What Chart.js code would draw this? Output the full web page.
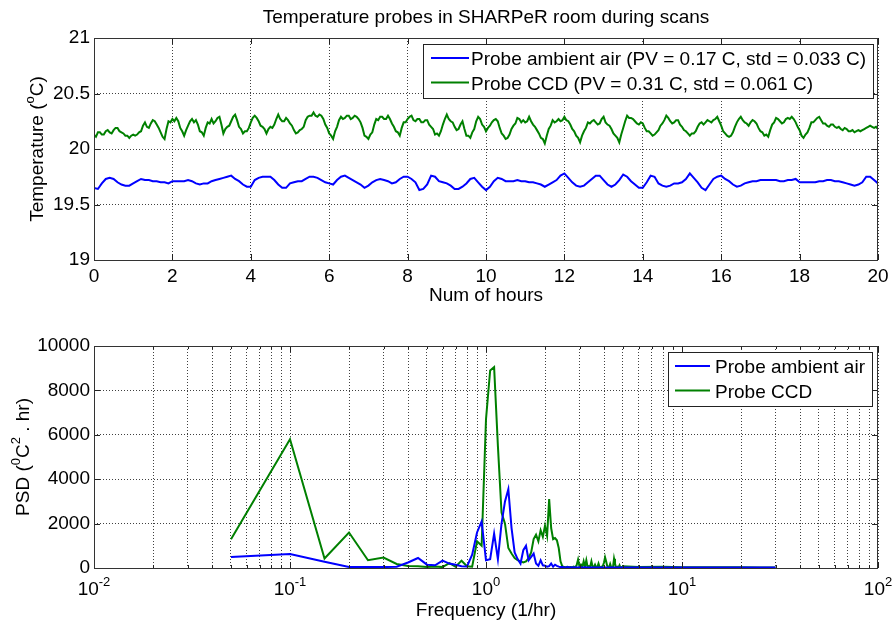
<!DOCTYPE html>
<html>
<head>
<meta charset="utf-8">
<script src="https://cdn.jsdelivr.net/npm/chart.js@4/dist/chart.umd.min.js"></script>
<style>
	body { margin: 0; background: #fff; }
	canvas { position: absolute; left: 0; }
	#tempChart { top: 0; }
	#psdChart { top: 320px; }
</style>
</head>
<body>
<canvas id="tempChart" width="894" height="320"></canvas>
<canvas id="psdChart" width="894" height="303"></canvas>
<script>
// Time axis of the ambient probe (hours).
const hours = [
	0.0, 0.1, 0.2, 0.3, 0.4, 0.5, 0.6, 0.7, 0.8, 0.9,
	1.0, 1.1, 1.2, 1.3, 1.4, 1.5, 1.6, 1.7, 1.8, 1.9,
	2.0, 2.1, 2.2, 2.3, 2.4, 2.5, 2.6, 2.7, 2.8, 2.9,
	3.0, 3.1, 3.2, 3.3, 3.4, 3.5, 3.6, 3.7, 3.8, 3.9,
	4.0, 4.1, 4.2, 4.3, 4.4, 4.5, 4.6, 4.7, 4.8, 4.9,
	5.0, 5.1, 5.2, 5.3, 5.4, 5.5, 5.6, 5.7, 5.8, 5.9,
	6.0, 6.1, 6.2, 6.3, 6.4, 6.5, 6.6, 6.7, 6.8, 6.9,
	7.0, 7.1, 7.2, 7.3, 7.4, 7.5, 7.6, 7.7, 7.8, 7.9,
	8.0, 8.1, 8.2, 8.3, 8.4, 8.5, 8.6, 8.7, 8.8, 8.9,
	9.0, 9.1, 9.2, 9.3, 9.4, 9.5, 9.6, 9.7, 9.8, 9.9,
	10.0, 10.1, 10.2, 10.3, 10.4, 10.5, 10.6, 10.7, 10.8, 10.9,
	11.0, 11.1, 11.2, 11.3, 11.4, 11.5, 11.6, 11.7, 11.8, 11.9,
	12.0, 12.1, 12.2, 12.3, 12.4, 12.5, 12.6, 12.7, 12.8, 12.9,
	13.0, 13.1, 13.2, 13.3, 13.4, 13.5, 13.6, 13.7, 13.8, 13.9,
	14.0, 14.1, 14.2, 14.3, 14.4, 14.5, 14.6, 14.7, 14.8, 14.9,
	15.0, 15.1, 15.2, 15.3, 15.4, 15.5, 15.6, 15.7, 15.8, 15.9,
	16.0, 16.1, 16.2, 16.3, 16.4, 16.5, 16.6, 16.7, 16.8, 16.9,
	17.0, 17.1, 17.2, 17.3, 17.4, 17.5, 17.6, 17.7, 17.8, 17.9,
	18.0, 18.1, 18.2, 18.3, 18.4, 18.5, 18.6, 18.7, 18.8, 18.9,
	19.0, 19.1, 19.2, 19.3, 19.4, 19.5, 19.6, 19.7, 19.8, 19.9,
	20.0
];

// Probe ambient air temperature (C).
const ambientTemp = [
	19.65, 19.64, 19.69, 19.73, 19.74, 19.73, 19.70, 19.68, 19.67, 19.67,
	19.69, 19.71, 19.73, 19.72, 19.72, 19.71, 19.71, 19.70, 19.70, 19.69,
	19.71, 19.71, 19.71, 19.71, 19.72, 19.71, 19.69, 19.68, 19.69, 19.69,
	19.71, 19.72, 19.73, 19.74, 19.75, 19.76, 19.73, 19.71, 19.68, 19.66,
	19.66, 19.72, 19.74, 19.75, 19.75, 19.75, 19.72, 19.68, 19.65, 19.65,
	19.69, 19.70, 19.71, 19.71, 19.73, 19.75, 19.75, 19.74, 19.72, 19.70,
	19.69, 19.68, 19.72, 19.75, 19.76, 19.74, 19.72, 19.70, 19.68, 19.65,
	19.67, 19.70, 19.72, 19.73, 19.72, 19.71, 19.69, 19.70, 19.73, 19.75,
	19.75, 19.73, 19.70, 19.63, 19.64, 19.68, 19.76, 19.75, 19.71, 19.70,
	19.69, 19.67, 19.64, 19.64, 19.66, 19.69, 19.73, 19.74, 19.70, 19.66,
	19.63, 19.66, 19.71, 19.74, 19.73, 19.71, 19.71, 19.71, 19.72, 19.71,
	19.71, 19.70, 19.70, 19.69, 19.68, 19.66, 19.68, 19.70, 19.72, 19.76,
	19.78, 19.74, 19.70, 19.67, 19.66, 19.67, 19.70, 19.73, 19.76, 19.76,
	19.72, 19.68, 19.66, 19.68, 19.72, 19.77, 19.75, 19.71, 19.68, 19.65,
	19.65, 19.70, 19.76, 19.75, 19.69, 19.67, 19.66, 19.67, 19.69, 19.69,
	19.70, 19.73, 19.78, 19.74, 19.70, 19.65, 19.63, 19.68, 19.73, 19.75,
	19.76, 19.73, 19.71, 19.68, 19.66, 19.67, 19.69, 19.70, 19.71, 19.71,
	19.72, 19.72, 19.72, 19.72, 19.72, 19.71, 19.71, 19.72, 19.72, 19.73,
	19.70, 19.70, 19.70, 19.70, 19.70, 19.71, 19.71, 19.72, 19.72, 19.71,
	19.71, 19.70, 19.69, 19.68, 19.67, 19.68, 19.70, 19.75, 19.75, 19.72,
	19.69
];

// Time axis of the CCD probe (hours), sampled more finely to keep its noise.
const ccdHours = [
	0.00, 0.05, 0.10, 0.15, 0.20, 0.25, 0.30, 0.35, 0.40, 0.45, 0.50, 0.55, 0.60, 0.65, 0.70, 0.75, 0.80, 0.85, 0.90, 0.95,
	1.00, 1.05, 1.10, 1.15, 1.20, 1.25, 1.30, 1.35, 1.40, 1.45, 1.50, 1.55, 1.60, 1.65, 1.70, 1.75, 1.80, 1.85, 1.90, 1.95,
	2.00, 2.05, 2.10, 2.15, 2.20, 2.25, 2.30, 2.35, 2.40, 2.45, 2.50, 2.55, 2.60, 2.65, 2.70, 2.75, 2.80, 2.85, 2.90, 2.95,
	3.00, 3.05, 3.10, 3.15, 3.20, 3.25, 3.30, 3.35, 3.40, 3.45, 3.50, 3.55, 3.60, 3.65, 3.70, 3.75, 3.80, 3.85, 3.90, 3.95,
	4.00, 4.05, 4.10, 4.15, 4.20, 4.25, 4.30, 4.35, 4.40, 4.45, 4.50, 4.55, 4.60, 4.65, 4.70, 4.75, 4.80, 4.85, 4.90, 4.95,
	5.00, 5.05, 5.10, 5.15, 5.20, 5.25, 5.30, 5.35, 5.40, 5.45, 5.50, 5.55, 5.60, 5.65, 5.70, 5.75, 5.80, 5.85, 5.90, 5.95,
	6.00, 6.05, 6.10, 6.15, 6.20, 6.25, 6.30, 6.35, 6.40, 6.45, 6.50, 6.55, 6.60, 6.65, 6.70, 6.75, 6.80, 6.85, 6.90, 6.95,
	7.00, 7.05, 7.10, 7.15, 7.20, 7.25, 7.30, 7.35, 7.40, 7.45, 7.50, 7.55, 7.60, 7.65, 7.70, 7.75, 7.80, 7.85, 7.90, 7.95,
	8.00, 8.05, 8.10, 8.15, 8.20, 8.25, 8.30, 8.35, 8.40, 8.45, 8.50, 8.55, 8.60, 8.65, 8.70, 8.75, 8.80, 8.85, 8.90, 8.95,
	9.00, 9.05, 9.10, 9.15, 9.20, 9.25, 9.30, 9.35, 9.40, 9.45, 9.50, 9.55, 9.60, 9.65, 9.70, 9.75, 9.80, 9.85, 9.90, 9.95,
	10.00, 10.05, 10.10, 10.15, 10.20, 10.25, 10.30, 10.35, 10.40, 10.45, 10.50, 10.55, 10.60, 10.65, 10.70, 10.75, 10.80, 10.85, 10.90, 10.95,
	11.00, 11.05, 11.10, 11.15, 11.20, 11.25, 11.30, 11.35, 11.40, 11.45, 11.50, 11.55, 11.60, 11.65, 11.70, 11.75, 11.80, 11.85, 11.90, 11.95,
	12.00, 12.05, 12.10, 12.15, 12.20, 12.25, 12.30, 12.35, 12.40, 12.45, 12.50, 12.55, 12.60, 12.65, 12.70, 12.75, 12.80, 12.85, 12.90, 12.95,
	13.00, 13.05, 13.10, 13.15, 13.20, 13.25, 13.30, 13.35, 13.40, 13.45, 13.50, 13.55, 13.60, 13.65, 13.70, 13.75, 13.80, 13.85, 13.90, 13.95,
	14.00, 14.05, 14.10, 14.15, 14.20, 14.25, 14.30, 14.35, 14.40, 14.45, 14.50, 14.55, 14.60, 14.65, 14.70, 14.75, 14.80, 14.85, 14.90, 14.95,
	15.00, 15.05, 15.10, 15.15, 15.20, 15.25, 15.30, 15.35, 15.40, 15.45, 15.50, 15.55, 15.60, 15.65, 15.70, 15.75, 15.80, 15.85, 15.90, 15.95,
	16.00, 16.05, 16.10, 16.15, 16.20, 16.25, 16.30, 16.35, 16.40, 16.45, 16.50, 16.55, 16.60, 16.65, 16.70, 16.75, 16.80, 16.85, 16.90, 16.95,
	17.00, 17.05, 17.10, 17.15, 17.20, 17.25, 17.30, 17.35, 17.40, 17.45, 17.50, 17.55, 17.60, 17.65, 17.70, 17.75, 17.80, 17.85, 17.90, 17.95,
	18.00, 18.05, 18.10, 18.15, 18.20, 18.25, 18.30, 18.35, 18.40, 18.45, 18.50, 18.55, 18.60, 18.65, 18.70, 18.75, 18.80, 18.85, 18.90, 18.95,
	19.00, 19.05, 19.10, 19.15, 19.20, 19.25, 19.30, 19.35, 19.40, 19.45, 19.50, 19.55, 19.60, 19.65, 19.70, 19.75, 19.80, 19.85, 19.90, 19.95,
	20.00
];

// Probe CCD temperature (C).
const ccdTemp = [
	20.13, 20.11, 20.15, 20.15, 20.13, 20.13, 20.16, 20.17, 20.15, 20.14, 20.17, 20.19, 20.19, 20.16, 20.15, 20.14, 20.12, 20.12, 20.10, 20.12,
	20.13, 20.12, 20.13, 20.15, 20.16, 20.21, 20.24, 20.20, 20.19, 20.23, 20.26, 20.25, 20.22, 20.19, 20.15, 20.11, 20.09, 20.18, 20.25, 20.24,
	20.27, 20.25, 20.28, 20.25, 20.19, 20.16, 20.12, 20.17, 20.21, 20.25, 20.27, 20.24, 20.26, 20.22, 20.16, 20.15, 20.12, 20.19, 20.24, 20.23,
	20.27, 20.23, 20.25, 20.28, 20.29, 20.22, 20.14, 20.18, 20.20, 20.21, 20.25, 20.29, 20.31, 20.26, 20.20, 20.18, 20.14, 20.16, 20.16, 20.19,
	20.24, 20.28, 20.30, 20.28, 20.25, 20.21, 20.20, 20.18, 20.14, 20.18, 20.20, 20.19, 20.22, 20.27, 20.31, 20.27, 20.25, 20.25, 20.28, 20.26,
	20.23, 20.21, 20.17, 20.14, 20.15, 20.17, 20.18, 20.20, 20.26, 20.29, 20.30, 20.30, 20.33, 20.30, 20.29, 20.31, 20.30, 20.27, 20.22, 20.19,
	20.14, 20.12, 20.09, 20.16, 20.20, 20.26, 20.29, 20.27, 20.28, 20.30, 20.30, 20.27, 20.28, 20.30, 20.29, 20.27, 20.24, 20.19, 20.12, 20.11,
	20.09, 20.13, 20.15, 20.22, 20.27, 20.26, 20.29, 20.29, 20.27, 20.27, 20.30, 20.27, 20.23, 20.20, 20.16, 20.15, 20.12, 20.19, 20.24, 20.24,
	20.27, 20.29, 20.30, 20.26, 20.25, 20.27, 20.27, 20.24, 20.24, 20.26, 20.26, 20.22, 20.20, 20.18, 20.13, 20.14, 20.12, 20.16, 20.22, 20.27,
	20.31, 20.27, 20.25, 20.24, 20.20, 20.17, 20.18, 20.22, 20.25, 20.18, 20.12, 20.12, 20.10, 20.15, 20.18, 20.25, 20.29, 20.27, 20.22, 20.20,
	20.16, 20.19, 20.21, 20.24, 20.26, 20.27, 20.25, 20.19, 20.14, 20.12, 20.09, 20.10, 20.13, 20.18, 20.21, 20.23, 20.28, 20.27, 20.24, 20.26,
	20.24, 20.25, 20.29, 20.25, 20.22, 20.20, 20.17, 20.14, 20.10, 20.09, 20.05, 20.12, 20.18, 20.21, 20.26, 20.24, 20.25, 20.27, 20.25, 20.26,
	20.29, 20.26, 20.25, 20.22, 20.18, 20.16, 20.12, 20.10, 20.06, 20.12, 20.16, 20.19, 20.24, 20.23, 20.25, 20.26, 20.24, 20.22, 20.23, 20.27,
	20.29, 20.24, 20.22, 20.21, 20.18, 20.14, 20.12, 20.10, 20.06, 20.13, 20.19, 20.25, 20.30, 20.28, 20.28, 20.27, 20.25, 20.23, 20.22, 20.24,
	20.23, 20.19, 20.16, 20.16, 20.14, 20.12, 20.13, 20.15, 20.17, 20.21, 20.23, 20.26, 20.30, 20.28, 20.25, 20.23, 20.24, 20.26, 20.26, 20.22,
	20.20, 20.17, 20.16, 20.14, 20.12, 20.14, 20.14, 20.16, 20.20, 20.23, 20.24, 20.22, 20.24, 20.26, 20.25, 20.24, 20.26, 20.27, 20.29, 20.25,
	20.21, 20.16, 20.14, 20.12, 20.11, 20.12, 20.15, 20.20, 20.24, 20.27, 20.29, 20.26, 20.24, 20.23, 20.21, 20.24, 20.26, 20.25, 20.23, 20.19,
	20.16, 20.15, 20.12, 20.13, 20.11, 20.17, 20.22, 20.24, 20.28, 20.27, 20.25, 20.23, 20.24, 20.27, 20.28, 20.27, 20.29, 20.27, 20.24, 20.20,
	20.17, 20.12, 20.10, 20.13, 20.15, 20.19, 20.24, 20.24, 20.26, 20.28, 20.29, 20.26, 20.23, 20.23, 20.21, 20.20, 20.22, 20.22, 20.20, 20.19,
	20.20, 20.18, 20.17, 20.19, 20.18, 20.16, 20.16, 20.17, 20.15, 20.16, 20.17, 20.16, 20.17, 20.18, 20.19, 20.20, 20.21, 20.20, 20.19, 20.20,
	20.18
];

// Frequency axis of the lower plot (1/hr).
const freq = [
	0.05, 0.10, 0.15, 0.20, 0.25, 0.30, 0.35, 0.40, 0.45, 0.50,
	0.55, 0.60, 0.65, 0.70, 0.75, 0.80, 0.85, 0.90, 0.95, 1.00,
	1.05, 1.10, 1.15, 1.20, 1.25, 1.30, 1.35, 1.40, 1.45, 1.50,
	1.55, 1.60, 1.65, 1.70, 1.75, 1.80, 1.85, 1.90, 1.95, 2.00,
	2.05, 2.10, 2.15, 2.20, 2.25, 2.30, 2.35, 2.40, 2.45, 2.50,
	2.55, 2.60, 2.65, 2.70, 2.75, 2.80, 2.85, 2.90, 2.95, 3.00,
	3.05, 3.10, 3.15, 3.20, 3.25, 3.30, 3.35, 3.40, 3.45, 3.50,
	3.55, 3.60, 3.65, 3.70, 3.75, 3.80, 3.85, 3.90, 3.95, 4.00,
	4.05, 4.10, 4.15, 4.20, 4.25, 4.30, 4.35, 4.40, 4.45, 4.50,
	4.55, 4.60, 4.65, 4.70, 4.75, 4.80, 4.85, 4.90, 4.95, 5.00,
	6, 8, 10, 15, 20, 25, 30
];

// PSD of the ambient air probe.
const ambientPsd = [
	500, 630, 280, 50, 50, 40, 60, 250, 450, 150,
	120, 330, 200, 150, 80, 70, 600, 1600, 2100, 350,
	400, 1550, 400, 2000, 3000, 3550, 1800, 700, 400, 200,
	800, 1000, 350, 500, 650, 200, 100, 350, 120, 100,
	60, 80, 200, 60, 150, 100, 60, 40, 40, 30,
	25, 40, 30, 20, 35, 25, 30, 20, 25, 30,
	20, 25, 20, 30, 20, 25, 20, 20, 25, 20,
	20, 25, 20, 20, 20, 20, 25, 20, 20, 20,
	20, 20, 20, 20, 20, 20, 20, 20, 20, 20,
	20, 20, 20, 20, 20, 20, 20, 20, 20, 20,
	20, 20, 20, 20, 20, 20, 20
];

// PSD of the CCD probe.
const ccdPsd = [
	1300, 5800, 430, 1600, 350, 470, 180, 90, 80, 50,
	70, 40, 220, 60, 330, 80, 60, 1200, 1000, 6700,
	8900, 9050, 5500, 2500, 2000, 900, 650, 450, 350, 300,
	250, 300, 450, 700, 1300, 1500, 1200, 1700, 1400, 1900,
	1450, 3100, 1800, 1300, 1350, 1250, 900, 300, 80, 40,
	30, 50, 30, 40, 30, 60, 40, 120, 380, 60,
	150, 40, 300, 60, 350, 40, 80, 60, 300, 50,
	40, 150, 30, 40, 200, 30, 40, 60, 100, 250,
	480, 300, 100, 60, 40, 180, 40, 30, 60, 420,
	200, 40, 30, 60, 30, 120, 30, 40, 30, 80,
	40, 60, 30, 30, 30, 25, 25
];

// Tick values and labels.
const hourTicks = [0, 2, 4, 6, 8, 10, 12, 14, 16, 18, 20];
const hourTickLabels = ['0', '2', '4', '6', '8', '10', '12', '14', '16', '18', '20'];
const tempTicks = [19, 19.5, 20, 20.5, 21];
const tempTickLabels = ['19', '19.5', '20', '20.5', '21'];
const psdTicks = [0, 2000, 4000, 6000, 8000, 10000];
const psdTickLabels = ['0', '2000', '4000', '6000', '8000', '10000'];
const freqExponents = [-2, -1, 0, 1, 2];

const FONT_FAMILY = '"Liberation Sans", Arial, Helvetica, sans-serif';
const MAIN_FONT = '19px ' + FONT_FAMILY;
const SUP_FONT = '13px ' + FONT_FAMILY;
const GRID_COLOR = 'rgba(0, 0, 0, 0.75)';
const BLUE = '#0000ff';
const GREEN = '#008000';

// Draw text made of normal and superscript parts. parts: [[text, isSup], ...]
function drawRich(ctx, parts, x, y, align) {
	let total = 0;
	for (const [text, sup] of parts) {
		ctx.font = sup ? SUP_FONT : MAIN_FONT;
		total += ctx.measureText(text).width;
	}
	let cx = x;
	if (align === 'center') cx = x - total / 2;
	if (align === 'right') cx = x - total;
	ctx.textAlign = 'left';
	ctx.textBaseline = 'alphabetic';
	for (const [text, sup] of parts) {
		ctx.font = sup ? SUP_FONT : MAIN_FONT;
		ctx.fillText(text, cx, sup ? y - 9 : y);
		cx += ctx.measureText(text).width;
	}
}

// Title, axis labels, box, inward ticks and legend in MATLAB style.
const decorPlugin = {
	id: 'decor',
	afterDraw(chart, args, opts) {
		const ctx = chart.ctx;
		const area = chart.chartArea;
		const xs = chart.scales.x;
		const ys = chart.scales.y;
		ctx.save();
		ctx.fillStyle = '#000';

		// Inward tick marks on all four sides.
		ctx.strokeStyle = '#222';
		ctx.lineWidth = 1;
		ctx.beginPath();
		xs.ticks.forEach(function (t) {
			const px = Math.round(xs.getPixelForValue(t.value)) + 0.5;
			const len = (opts.logX && !t.major) ? 3 : 6;
			ctx.moveTo(px, area.bottom);
			ctx.lineTo(px, area.bottom - len);
			ctx.moveTo(px, area.top);
			ctx.lineTo(px, area.top + len);
		});
		ys.ticks.forEach(function (t) {
			const py = Math.round(ys.getPixelForValue(t.value)) + 0.5;
			ctx.moveTo(area.left, py);
			ctx.lineTo(area.left + 6, py);
			ctx.moveTo(area.right, py);
			ctx.lineTo(area.right - 6, py);
		});
		ctx.stroke();

		// Axes box.
		ctx.strokeStyle = '#333';
		ctx.strokeRect(Math.round(area.left) + 0.5, Math.round(area.top) + 0.5,
			Math.round(area.right - area.left) - 1, Math.round(area.bottom - area.top));

		// Title.
		if (opts.title) {
			drawRich(ctx, [[opts.title, false]], (area.left + area.right) / 2, opts.titleY, 'center');
		}
		// X label.
		drawRich(ctx, opts.xTitle, (area.left + area.right) / 2, opts.xTitleY, 'center');
		// Y label, rotated.
		ctx.save();
		ctx.translate(opts.yTitleX, (area.top + area.bottom) / 2);
		ctx.rotate(-Math.PI / 2);
		drawRich(ctx, opts.yTitle, 0, 0, 'center');
		ctx.restore();

		// Log axis tick labels as powers of ten.
		if (opts.logX) {
			freqExponents.forEach(function (e) {
				const px = xs.getPixelForValue(Math.pow(10, e));
				drawRich(ctx, [['10', false], [String(e), true]], px, opts.logLabelY, 'center');
			});
		}

		// Legend inside the axes, upper right.
		ctx.font = MAIN_FONT;
		let textW = 0;
		opts.legend.forEach(function (item) {
			textW = Math.max(textW, ctx.measureText(item.text).width);
		});
		const boxW = opts.legendPad + opts.legendLine + opts.legendGap + textW + 7;
		const boxRight = Math.round(area.right) - opts.legendRight;
		const boxLeft = Math.round(boxRight - boxW);
		const boxTop = Math.round(area.top) + 6;
		ctx.fillStyle = '#fff';
		ctx.fillRect(boxLeft, boxTop, boxRight - boxLeft, 54);
		ctx.strokeStyle = '#222';
		ctx.strokeRect(boxLeft + 0.5, boxTop + 0.5, boxRight - boxLeft, 54);
		opts.legend.forEach(function (item, i) {
			const ly = boxTop + 14 + i * 24.5;
			const lx = boxLeft + opts.legendPad;
			ctx.strokeStyle = item.color;
			ctx.lineWidth = 2;
			ctx.beginPath();
			ctx.moveTo(lx, ly);
			ctx.lineTo(lx + opts.legendLine, ly);
			ctx.stroke();
			ctx.fillStyle = '#000';
			drawRich(ctx, [[item.text, false]], lx + opts.legendLine + opts.legendGap, ly + 7, 'left');
		});
		ctx.restore();
	}
};

function lineDataset(xs, ys, color) {
	return {
		data: xs.map((x, i) => ({ x: x, y: ys[i] })),
		borderColor: color,
		borderWidth: 2,
		pointRadius: 0,
		tension: 0,
		fill: false
	};
}

const tickFont = { family: FONT_FAMILY, size: 19 };

// Upper chart: temperature over time.
new Chart(document.getElementById('tempChart'), {
	type: 'line',
	data: {
		datasets: [
			lineDataset(hours, ambientTemp, BLUE),
			lineDataset(ccdHours, ccdTemp, GREEN)
		]
	},
	options: {
		responsive: false,
		animation: false,
		devicePixelRatio: 1,
		layout: { padding: { top: 38, right: 16, left: 0, bottom: 0 } },
		plugins: {
			legend: { display: false },
			tooltip: { enabled: false },
			decor: {
				title: 'Temperature probes in SHARPeR room during scans',
				titleY: 23,
				xTitle: [['Num of hours', false]],
				xTitleY: 301,
				yTitle: [['Temperature (', false], ['o', true], ['C)', false]],
				yTitleX: 43,
				legend: [
					{ text: 'Probe ambient air (PV = 0.17 C, std = 0.033 C)', color: BLUE },
					{ text: 'Probe CCD (PV = 0.31 C, std = 0.061 C)', color: GREEN }
				],
				legendPad: 8, legendLine: 38, legendGap: 2, legendRight: 5
			}
		},
		scales: {
			x: {
				type: 'linear', min: 0, max: 20,
				afterBuildTicks: function (s) { s.ticks = hourTicks.map(v => ({ value: v })); },
				afterFit: function (s) { s.height = 60; },
				ticks: { callback: (v, i) => hourTickLabels[i], font: tickFont, color: '#000', padding: 5, maxRotation: 0, autoSkip: false },
				grid: { color: GRID_COLOR, drawTicks: false },
				border: { display: false, dash: [1, 2] }
			},
			y: {
				type: 'linear', min: 19, max: 21,
				afterBuildTicks: function (s) { s.ticks = tempTicks.map(v => ({ value: v })); },
				afterFit: function (s) { s.width = 94; },
				ticks: { callback: (v, i) => tempTickLabels[i], font: tickFont, color: '#000', padding: 4, autoSkip: false },
				grid: { color: GRID_COLOR, drawTicks: false },
				border: { display: false, dash: [1, 2] }
			}
		}
	},
	plugins: [decorPlugin]
});

// Lower chart: power spectral density, log frequency axis.
new Chart(document.getElementById('psdChart'), {
	type: 'line',
	data: {
		datasets: [
			lineDataset(freq, ambientPsd, BLUE),
			lineDataset(freq, ccdPsd, GREEN)
		]
	},
	options: {
		responsive: false,
		animation: false,
		devicePixelRatio: 1,
		layout: { padding: { top: 26, right: 16, left: 0, bottom: 0 } },
		plugins: {
			legend: { display: false },
			tooltip: { enabled: false },
			decor: {
				xTitle: [['Frequency (1/hr)', false]],
				xTitleY: 296,
				yTitle: [['PSD (', false], ['0', true], ['C', false], ['2', true], [' . hr)', false]],
				yTitleX: 29,
				logX: true,
				logLabelY: 275,
				legend: [
					{ text: 'Probe ambient air', color: BLUE },
					{ text: 'Probe CCD', color: GREEN }
				],
				legendPad: 7, legendLine: 35, legendGap: 5, legendRight: 6
			}
		},
		scales: {
			x: {
				type: 'logarithmic', min: 0.01, max: 100,
				afterBuildTicks: function (s) {
					const ticks = [];
					freqExponents.forEach(function (e) {
						const base = Math.pow(10, e);
						const steps = e === 2 ? [1] : [1, 2, 3, 4, 5, 6, 7, 8, 9];
						steps.forEach(function (m) {
							ticks.push({ value: m * base, major: m === 1 });
						});
					});
					s.ticks = ticks;
				},
				afterFit: function (s) { s.height = 55; },
				ticks: { display: false, autoSkip: false },
				grid: { color: GRID_COLOR, drawTicks: false },
				border: { display: false, dash: [1, 2] }
			},
			y: {
				type: 'linear', min: 0, max: 10000,
				afterBuildTicks: function (s) { s.ticks = psdTicks.map(v => ({ value: v })); },
				afterFit: function (s) { s.width = 94; },
				ticks: { callback: (v, i) => psdTickLabels[i], font: tickFont, color: '#000', padding: 4, autoSkip: false },
				grid: { color: GRID_COLOR, drawTicks: false },
				border: { display: false, dash: [1, 2] }
			}
		}
	},
	plugins: [decorPlugin]
});
</script>
</body>
</html>
